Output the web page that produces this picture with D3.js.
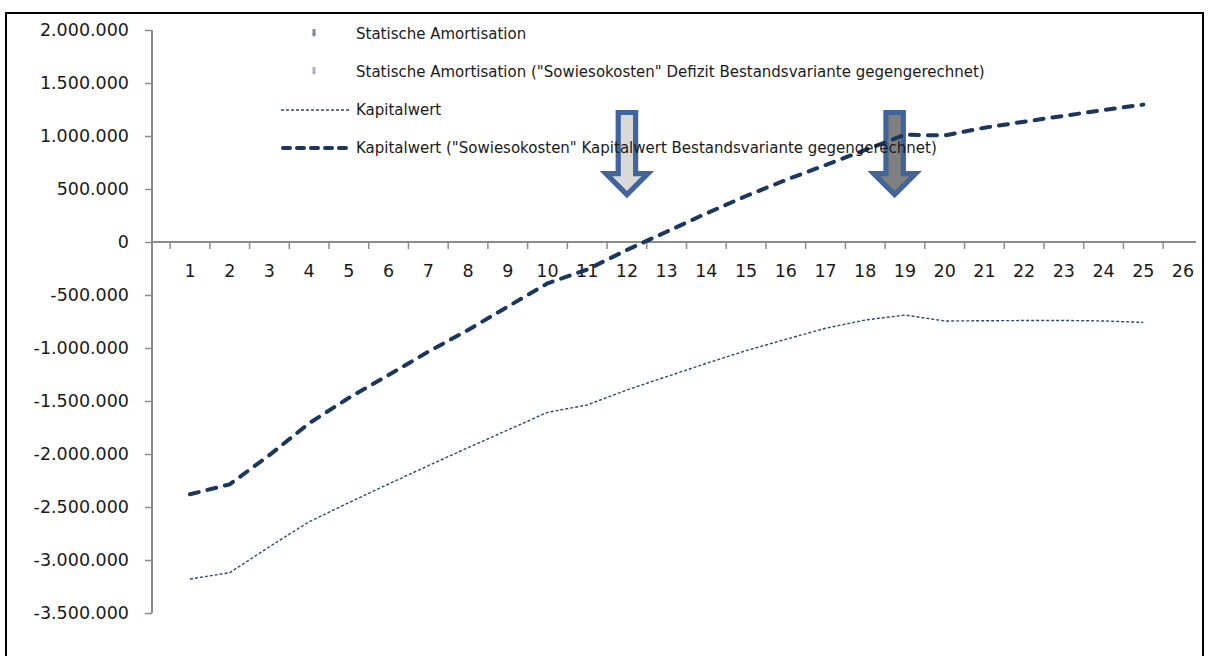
<!DOCTYPE html>
<html>
<head>
<meta charset="utf-8">
<script src="https://cdn.jsdelivr.net/npm/d3@7"></script>
<style>
  html, body { margin: 0; padding: 0; background: #fff; }
  svg { display: block; }
  text { font-family: "DejaVu Sans", sans-serif; fill: #1a1a1a; }
</style>
</head>
<body>
<svg id="chart" width="1210" height="656"></svg>
<script>
// Jahre der Betrachtung (Kategorieachse)
const years = d3.range(1, 27);
const yearLabels = years.map(String);

// Kapitalwert je Jahr (Jahr 1 bis 25), in Euro
const kapitalwert = [
  -3179000, -3120000, -2875000, -2639000, -2459000, -2283000, -2110000,
  -1940000, -1774000, -1607000, -1538000, -1396000, -1270000, -1145000,
  -1025000, -918000, -814000, -736000, -689000, -745000, -743000,
  -741000, -740000, -745000, -758000
];

// Kapitalwert mit gegengerechnetem Kapitalwert der Bestandsvariante
const kapitalwertSowieso = [
  -2380000, -2286000, -2010000, -1710000, -1470000, -1255000, -1035000,
  -830000, -610000, -390000, -260000, -75000, 97000, 270000,
  434000, 585000, 726000, 868000, 1012000, 1005000, 1078000,
  1135000, 1190000, 1245000, 1296000
];

// Statische Amortisation (Jahr): ohne / mit gegengerechnetem Defizit
const amortisationJahr = [18.74, 12];
// Wertebereich, den die Amortisationspfeile überdecken (oben, Spitze)
const pfeilBereich = [1250000, 410000];

// Y-Achsenbeschriftung
const yTicks = d3.range(-3500000, 2000001, 500000);

const legendLabels = [
  "Statische Amortisation",
  "Statische Amortisation (\"Sowiesokosten\" Defizit Bestandsvariante gegengerechnet)",
  "Kapitalwert",
  "Kapitalwert (\"Sowiesokosten\" Kapitalwert Bestandsvariante gegengerechnet)"
];

const navy = "#1B365F";
const axisGrey = "#8C8C8C";
const arrowBlue = "#41659A";
const arrowFills = ["#808080", "#D9D9D9"];

const svg = d3.select("#chart");

// Rahmen
svg.append("rect")
  .attr("x", 6).attr("y", 13)
  .attr("width", 1197).attr("height", 700)
  .attr("fill", "none").attr("stroke", "#000").attr("stroke-width", 2);

const x = d3.scaleLinear().domain([1, 26]).range([190, 1183]);
const step = x(2) - x(1);
const y = d3.scaleLinear().domain([-3500000, 2000000]).range([613, 30]);
const x0 = 152; // Lage der Y-Achse

const de = d3.formatLocale({ decimal: ",", thousands: ".", grouping: [3], currency: ["", " €"], minus: "-" });
const fmt = de.format(",d");

// Y-Achse
const yAxis = svg.append("g")
  .attr("transform", `translate(${x0},0)`)
  .call(d3.axisLeft(y).tickValues(yTicks).tickFormat(fmt).tickSize(7).tickPadding(16));
yAxis.select(".domain").attr("stroke", axisGrey).attr("stroke-width", 2).attr("d", `M0,${y(2000000)}V${y(-3500000)}`);
yAxis.selectAll(".tick line").attr("stroke", axisGrey).attr("stroke-width", 1.5);
yAxis.selectAll(".tick text").attr("font-size", 17.5).attr("font-family", "DejaVu Sans").attr("fill", "#1a1a1a");

// X-Achse bei 0
const xAxisG = svg.append("g").attr("transform", `translate(0,${y(0)})`);
xAxisG.append("line")
  .attr("x1", x0).attr("x2", x(26) + 13)
  .attr("stroke", axisGrey).attr("stroke-width", 2);
xAxisG.selectAll("line.tick").data(years).join("line")
  .attr("class", "tick")
  .attr("x1", d => x(d) - step / 2).attr("x2", d => x(d) - step / 2)
  .attr("y1", 0).attr("y2", 7)
  .attr("stroke", axisGrey).attr("stroke-width", 1.5);
xAxisG.selectAll("text").data(years).join("text")
  .attr("x", d => x(d)).attr("y", 35)
  .attr("text-anchor", "middle")
  .attr("font-size", 17.5)
  .text((d, i) => yearLabels[i]);

// Amortisationspfeile
function arrowPath(cx, top, tip) {
  const sw = 8.7, hw = 21, headH = 21;
  const base = tip - headH;
  return `M${cx - sw},${top}H${cx + sw}V${base}H${cx + hw}L${cx},${tip}L${cx - hw},${base}H${cx - sw}Z`;
}
svg.append("g").selectAll("path").data(amortisationJahr).join("path")
  .attr("d", d => arrowPath(x(d), y(pfeilBereich[0]) + 3, y(pfeilBereich[1]) - 4))
  .attr("fill", (d, i) => arrowFills[i])
  .attr("stroke", arrowBlue).attr("stroke-width", 5.2)
  .attr("stroke-linejoin", "miter");

// Linien
const line = d3.line().x((d, i) => x(years[i])).y(d => y(d));
svg.append("path").datum(kapitalwert)
  .attr("d", line).attr("fill", "none")
  .attr("stroke", "#2A4A7A").attr("stroke-width", 1.4)
  .attr("stroke-dasharray", "3,2");
svg.append("path").datum(kapitalwertSowieso)
  .attr("d", line).attr("fill", "none")
  .attr("stroke", navy).attr("stroke-width", 4)
  .attr("stroke-linecap", "round")
  .attr("stroke-dasharray", "9,9");

// Legende
const legendY = [34, 72, 110, 148];
const lg = svg.append("g");
lg.selectAll("text").data(legendLabels).join("text")
  .attr("x", 356).attr("y", (d, i) => legendY[i])
  .attr("dy", "0.35em")
  .attr("font-size", 15)
  .text(d => d);

// kleine Pfeilsymbole
const iconFills = ["#7D8AA0", "#A9B4C6"];
[0, 1].forEach(i => {
  const cx = 314, cy = legendY[i] - 1;
  lg.append("path")
    .attr("d", `M${cx - 1.5},${cy - 4}H${cx + 1.5}V${cy + 1}H${cx + 2.5}L${cx},${cy + 4}L${cx - 2.5},${cy + 1}H${cx - 1.5}Z`)
    .attr("fill", iconFills[i]);
});
lg.append("line")
  .attr("x1", 281).attr("x2", 350).attr("y1", legendY[2]).attr("y2", legendY[2])
  .attr("stroke", "#2A4A7A").attr("stroke-width", 1.4).attr("stroke-dasharray", "3,2");
lg.append("line")
  .attr("x1", 283).attr("x2", 350).attr("y1", legendY[3]).attr("y2", legendY[3])
  .attr("stroke", navy).attr("stroke-width", 4)
  .attr("stroke-linecap", "round").attr("stroke-dasharray", "7,7");
</script>
</body>
</html>
